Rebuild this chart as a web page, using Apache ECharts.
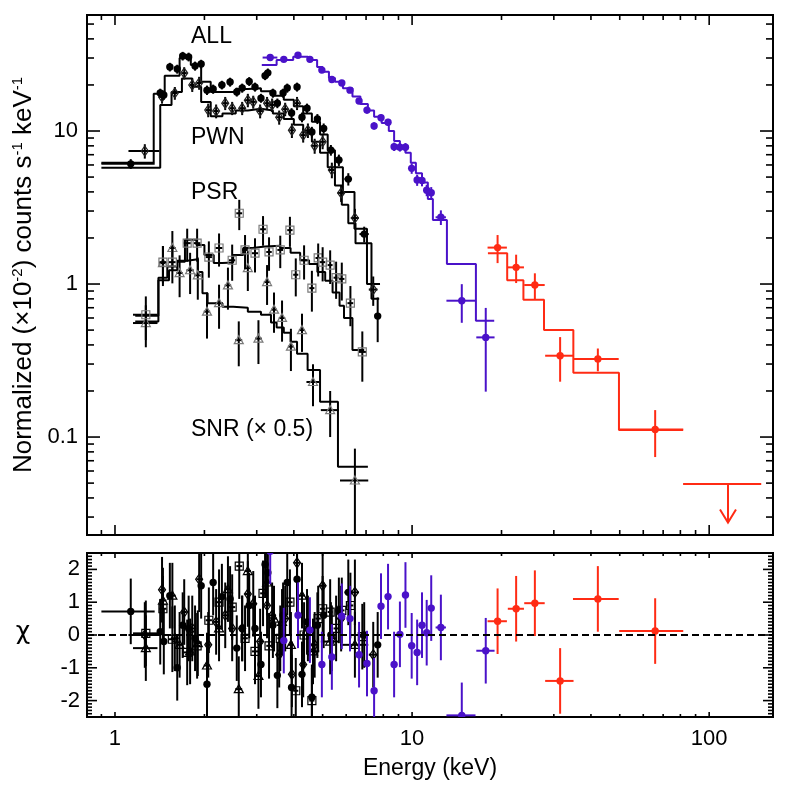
<!DOCTYPE html>
<html><head><meta charset="utf-8">
<script src="https://cdn.jsdelivr.net/npm/echarts@6/dist/echarts.min.js"></script>
<style>html,body{margin:0;padding:0;background:#fff}#c{width:789px;height:789px}</style>
</head><body><div id="c"></div>
<script>
// ---------------- DATA ----------------
// ALL (filled black circles)
const allE   = [1.13,1.42,1.46,1.53,1.62,1.69,1.77,1.86,1.95,2.04,2.14,2.29,2.44,2.57,2.68,2.83,2.96,3.10,3.20,3.27,3.40,3.52,3.68,3.80,3.93,4.10,4.26,4.43,4.60,4.80,5.04,5.33,5.67,6.10,6.90,7.66];
const allDE  = [0.23,0.03,0.03,0.035,0.035,0.035,0.04,0.04,0.045,0.045,0.05,0.06,0.06,0.06,0.06,0.06,0.07,0.05,0.05,0.05,0.06,0.06,0.07,0.07,0.07,0.08,0.08,0.09,0.09,0.1,0.12,0.13,0.15,0.18,0.25,0.15];
const allY   = [6.1,17.7,17.2,26.2,25.4,30.9,30.5,26.6,27.4,18.5,18.8,20.0,20.9,18.0,19.1,21.1,19.4,16.4,23.0,24.0,17.7,15.2,17.7,19.1,13.1,19.4,12.3,14.1,9.85,12.0,10.4,7.5,6.46,4.85,2.12,0.617];
const allDY  = [0.45,1.2,1.2,1.7,1.7,2.0,2.0,1.8,1.8,1.3,1.3,1.3,1.4,1.2,1.3,1.4,1.3,1.1,1.5,1.6,1.2,1.1,1.2,1.3,1.0,1.3,0.9,1.0,0.8,0.9,0.8,0.6,0.55,0.45,0.25,0.2];
const allChi = [0.72,0.1,-0.2,1.2,-1.0,0.3,0.2,-0.1,1.5,-1.5,1.6,1.17,1.1,-0.4,0.2,0.9,0.2,-0.9,2.15,1.9,0.3,-1.23,0.6,1.6,-1.6,1.7,-1.2,0.4,-1.9,0.3,0.6,0.0,0.75,1.3,0.0,-0.3];
const allModelEdges = [0.9,1.35,1.47,1.65,1.8,1.95,2.1,2.3,2.55,2.8,3.1,3.4,3.7,4.0,4.3,4.6,4.9,5.2,5.5,5.85,6.4,7.05,7.8];
const allModelVals  = [6.2,17.5,23,30,27,21,18,18,18.8,19,18.2,17,16,14.5,13,11.5,9.5,7.5,5.8,4.0,2.3,1.0];

// PWN (open diamonds)
const pwnE   = [1.26,1.44,1.59,1.71,1.82,1.92,2.06,2.19,2.35,2.48,2.68,2.80,2.92,3.08,3.25,3.38,3.57,3.74,3.94,4.10,4.30,4.46,4.70,5.00,5.37,5.77,6.42,7.40];
const pwnDE  = [0.15,0.03,0.035,0.035,0.035,0.04,0.04,0.045,0.05,0.05,0.06,0.06,0.06,0.07,0.07,0.07,0.08,0.08,0.08,0.09,0.09,0.1,0.1,0.12,0.14,0.16,0.2,0.25];
const pwnY   = [7.4,16.7,17.7,23.9,20.0,20.6,13.7,13.5,15.2,14.1,14.1,15.9,15.5,13.5,15.2,14.8,12.3,13.9,10.1,15.2,9.4,10.1,8.0,8.5,5.56,3.94,2.7,0.92];
const pwnDY  = [0.8,1.6,1.7,2.2,2.0,2.0,1.4,1.4,1.5,1.4,1.4,1.6,1.5,1.4,1.5,1.5,1.3,1.4,1.1,1.5,1.0,1.1,0.9,0.9,0.65,0.5,0.4,0.2];
const pwnChi = [0.0,1.38,-0.1,0.7,0.2,1.7,-0.3,0.4,0.6,0.2,0.2,1.25,0.95,-0.2,0.9,0.6,-0.6,0.5,-1.2,2.2,-0.9,0.2,-0.3,1.5,-0.1,0.5,1.3,-0.6];
const pwnModelEdges = [0.9,1.42,1.55,1.68,1.82,1.95,2.1,2.3,2.55,2.8,3.1,3.4,3.7,4.0,4.3,4.6,4.9,5.2,5.5,5.8,6.1,6.45,7.3,7.75];
const pwnModelVals  = [5.75,14.8,18.0,22.0,19.5,15.5,12.5,13.0,13.6,14.0,13.6,13.0,12.0,11.0,9.8,8.5,7.2,5.8,4.4,3.3,2.5,1.85,0.8];

// PSR (open squares)
const psrE   = [1.27,1.45,1.56,1.75,1.89,2.07,2.24,2.48,2.62,2.74,2.96,3.15,3.30,3.60,3.88,4.06,4.33,4.60,4.83,5.00,5.30,5.55,5.80,6.20,6.80];
const psrDE  = [0.12,0.04,0.04,0.05,0.05,0.05,0.06,0.06,0.06,0.06,0.07,0.07,0.07,0.08,0.08,0.08,0.09,0.09,0.1,0.1,0.1,0.11,0.12,0.14,0.2];
const psrY   = [0.63,1.39,1.39,1.85,1.85,1.50,1.72,1.43,2.90,1.67,1.59,2.28,1.62,1.67,2.25,1.15,1.43,0.94,1.48,1.39,1.33,1.10,1.08,0.75,0.36];
const psrDY  = [0.2,0.38,0.38,0.45,0.45,0.4,0.42,0.38,0.65,0.42,0.4,0.5,0.4,0.4,0.5,0.32,0.36,0.28,0.36,0.35,0.33,0.3,0.3,0.22,0.13];
const psrChi = [0.05,0.8,-0.13,-0.53,-0.33,0.45,1.0,0.85,2.1,-0.1,-0.5,1.27,-0.33,-0.1,1.0,-1.7,0.0,-2.0,0.5,0.8,0.7,0.2,0.75,0.9,-0.05];
const psrModelEdges = [1.17,1.4,1.5,1.62,1.72,1.88,2.0,2.15,2.3,2.5,2.7,2.9,3.2,3.6,3.9,4.2,4.5,4.8,5.1,5.4,5.7,5.9,6.3,6.9];
const psrModelVals  = [0.62,1.1,1.3,1.4,1.95,1.8,1.55,1.37,1.38,1.55,1.72,1.76,1.78,1.72,1.6,1.43,1.35,1.2,1.05,0.88,0.72,0.6,0.37];

// SNR x0.5 (open triangles)
const snrE   = [1.27,1.45,1.56,1.65,1.79,1.90,2.04,2.24,2.40,2.61,2.80,3.04,3.25,3.43,3.65,3.91,4.26,4.64,5.30,6.42];
const snrDE  = [0.12,0.04,0.04,0.04,0.05,0.05,0.05,0.06,0.06,0.07,0.07,0.08,0.08,0.08,0.09,0.09,0.1,0.23,0.37,0.7];
const snrY   = [0.556,1.37,1.72,1.18,1.23,1.14,0.66,0.75,0.98,0.43,1.27,0.44,1.03,0.68,0.6,0.39,0.5,0.229,0.15,0.052];
const snrDY  = [0.17,0.4,0.5,0.36,0.37,0.35,0.22,0.24,0.3,0.14,0.37,0.14,0.3,0.2,0.18,0.12,0.14,0.07,0.05,0.032];
const snrChi = [-0.4,1.05,1.2,-0.3,-0.5,-0.25,-0.93,0.2,1.4,-1.65,1.95,-1.25,1.6,0.5,0.4,-0.3,1.2,-0.5,-0.2,-0.3];
const snrModelEdges = [1.17,1.4,1.52,1.62,1.75,1.9,1.97,2.05,2.3,2.5,2.8,3.1,3.35,3.5,3.7,3.9,4.1,4.45,4.9,5.63,7.1];
const snrModelVals  = [0.57,1.06,1.23,1.42,1.45,1.2,0.87,0.75,0.71,0.70,0.66,0.63,0.56,0.52,0.48,0.42,0.35,0.274,0.17,0.064];

// Blue instrument (filled blue circles)
const bluE   = [3.33,3.70,4.13,4.53,4.97,5.37,5.80,6.18,6.63,7.05,7.45,7.86,8.30,8.70,9.10,9.50,9.97,10.4,10.8,11.2,11.6,12.5,14.7,17.7];
const bluDE  = [0.19,0.06,0.07,0.07,0.08,0.08,0.09,0.1,0.1,0.11,0.11,0.12,0.12,0.13,0.13,0.14,0.15,0.15,0.16,0.16,0.17,0.5,1.65,1.25];
const bluY   = [30.2,29.4,31.3,29.4,25.0,21.7,20.6,18.5,15.7,13.7,10.8,12.2,11.4,7.9,7.84,7.84,5.70,4.78,4.75,4.1,3.95,2.73,0.778,0.448];
const bluDY  = [1.2,1.1,1.2,1.1,1.0,0.9,0.9,0.8,0.7,0.7,0.6,0.6,0.6,0.5,0.5,0.5,0.45,0.4,0.4,0.35,0.35,0.3,0.22,0.25];
const bluChi = [2.55,-0.17,0.6,0.15,-0.9,-0.67,0.57,0.5,-0.6,-0.87,-1.7,0.88,1.17,-0.9,0.02,1.22,-0.33,-0.53,0.3,0.07,0.82,0.23,-2.45,-0.48];
const bluModelEdges = [3.12,3.5,3.98,4.46,4.79,5.0,5.25,5.5,5.85,6.3,6.7,7.1,7.45,7.9,8.35,8.7,9.1,9.5,9.9,10.3,10.8,11.3,11.75,13.1,16.4,18.9];
const bluModelVals  = [27,29.1,30.6,29.1,26.2,24.4,22.2,21.0,19.0,16.8,15.0,13.6,12.4,11.3,10.0,8.6,8.0,7.2,6.2,5.3,4.6,3.6,2.62,1.35,0.575];

// Red instrument (filled red circles)
const redE   = [19.4,22.4,25.9,31.5,42.2,65.8];
const redDE  = [1.45,1.4,2.05,3.45,7.4,16];
const redY   = [1.73,1.285,0.985,0.34,0.324,0.112];
const redDY  = [0.36,0.27,0.19,0.11,0.055,0.038];
const redChi = [0.42,0.8,0.97,-1.4,1.1,0.12];
const redModelEdges = [18.0,20.9,23.7,27.8,34.9,49.7,81.7];
const redModelVals  = [1.59,1.06,0.79,0.5,0.263,0.111];
// upper limit: [E, dE, level, arrow tip]
const redUpperLimit = [[115.7, 34, 0.0494, 0.0276]];

// axis ticks
const xMajorTicks = [1, 10, 100];
const xMinorTicks = [0.9, 2, 3, 4, 5, 6, 7, 8, 9, 20, 30, 40, 50, 60, 70, 80, 90];
const yMajorTicks = [0.1, 1, 10];
const yMinorTicks = [0.03,0.04,0.05,0.06,0.07,0.08,0.09,0.2,0.3,0.4,0.5,0.6,0.7,0.8,0.9,2,3,4,5,6,7,8,9,20,30,40,50];
const chiMajorTicks = [-2, -1, 0, 1, 2];
const chiMinorTicks = [-2.4,-2.3,-2.2,-2.1,-1.9,-1.8,-1.7,-1.6,-1.5,-1.4,-1.3,-1.2,-1.1,-0.9,-0.8,-0.7,-0.6,-0.5,-0.4,-0.3,-0.2,-0.1,0.1,0.2,0.3,0.4,0.5,0.6,0.7,0.8,0.9,1.1,1.2,1.3,1.4,1.5,1.6,1.7,1.8,1.9,2.1,2.2,2.3,2.4];

// ---------------- STYLE ----------------
const FONT = '"Liberation Sans", Arial, Helvetica, sans-serif';
const BLUE = '#4a12c9';
const RED = '#ff2b14';
const GREY = '#7a7a7a';

function markerShape(type, x, y, color) {
  if (type === 'circle') return {type:'circle', shape:{cx:x, cy:y, r:3.7}, style:{fill:color}};
  if (type === 'square') return {type:'rect', shape:{x:x-4, y:y-4, width:8, height:8}, style:{fill:'none', stroke:color, lineWidth:1.2}};
  if (type === 'triangle') return {type:'polygon', shape:{points:[[x,y-4.5],[x+4.5,y+3.5],[x-4.5,y+3.5]]}, style:{fill:'none', stroke:color, lineWidth:1.2}};
  return {type:'polygon', shape:{points:[[x,y-5],[x+3.5,y],[x,y+5],[x-3.5,y]]}, style:{fill:'none', stroke:color, lineWidth:1.2}};
}

function errSeries(name, grid, E, dE, Y, dY, marker, color, markColor, log) {
  const data = E.map((e, i) => [e, dE[i], Y[i], Array.isArray(dY) ? dY[i] : dY]);
  return {
    name, type: 'custom', xAxisIndex: grid, yAxisIndex: grid, z: 3, clip: true,
    encode: {x: 0, y: 2}, data, silent: true,
    renderItem(params, api) {
      const cs = params.coordSys;
      const e = api.value(0), de = api.value(1), y = api.value(2), dy = api.value(3);
      const c = api.coord([e, y]);
      const xl = api.coord([e - de, y])[0], xr = api.coord([e + de, y])[0];
      const lo = log ? Math.max(y - dy, 1e-5) : y - dy;
      const yt = api.coord([e, y + dy])[1], yb = api.coord([e, lo])[1];
      const st = {stroke: color, lineWidth: 2};
      return {
        type: 'group',
        clipPath: {type:'rect', shape:{x:cs.x, y:cs.y, width:cs.width, height:cs.height}},
        children: [
          {type:'line', shape:{x1:xl, y1:c[1], x2:xr, y2:c[1]}, style: st},
          {type:'line', shape:{x1:c[0], y1:yt, x2:c[0], y2:yb}, style: st},
          markerShape(marker, c[0], c[1], markColor)
        ]
      };
    }
  };
}

function stepSeries(name, grid, edges, vals, color) {
  const d = vals.map((v, i) => [edges[i], v]);
  d.push([edges[edges.length - 1], vals[vals.length - 1]]);
  return {name, type:'line', xAxisIndex:grid, yAxisIndex:grid, step:'end', data:d, symbol:'none', showSymbol:false,
          lineStyle:{color, width:2}, itemStyle:{color}, z:2, silent:true};
}

function frameSeries(grid, anchor, spec) {
  return {
    type:'custom', xAxisIndex:grid, yAxisIndex:grid, data:[anchor], z:6, silent:true,
    renderItem(params, api) {
      const cs = params.coordSys, ch = [];
      const L = (x1, y1, x2, y2, w, dash) => ch.push({type:'line', shape:{x1, y1, x2, y2}, style:{stroke:'#000', lineWidth:w || 1.6, lineDash: dash || null}});
      const x0 = cs.x, x1 = cs.x + cs.width, y0 = cs.y, y1 = cs.y + cs.height;
      const xt = (arr, len) => arr.forEach(v => { const px = api.coord([v, anchor[1]])[0]; if (px <= x0 + 1 || px >= x1 - 1) return; L(px, y1, px, y1 - len); L(px, y0, px, y0 + len); });
      const yt = (arr, len) => arr.forEach(v => { const py = api.coord([anchor[0], v])[1]; if (py <= y0 + 1 || py >= y1 - 1) return; L(x0, py, x0 + len, py); L(x1, py, x1 - len, py); });
      xt(spec.xMaj, spec.xMajLen); xt(spec.xMin, spec.xMinLen);
      yt(spec.yMaj, spec.yMajLen); yt(spec.yMin, spec.yMinLen);
      if (spec.zero) { const py = api.coord([anchor[0], 0])[1]; L(x0, py, x1, py, 2, [7, 4]); }
      return {type:'group', children: ch};
    }
  };
}

function decadeFmt(v) {
  const l = Math.log10(v), r = Math.round(l);
  if (Math.abs(l - r) > 1e-6) return '';
  return r < 0 ? Number(v).toFixed(-r) : String(Math.round(v));
}
function intFmt(v) {
  return Math.abs(v - Math.round(v)) < 1e-6 ? String(Math.round(v)) : '';
}

const labelStyle = {fontSize: 22, fontFamily: FONT, color: '#000'};
const X_MIN = 0.805, X_MAX = 164;

const option = {
  animation: false,
  backgroundColor: '#fff',
  grid: [
    {left: 87, top: 15, width: 686, height: 520, show: true, borderColor: '#000', borderWidth: 2, backgroundColor: 'transparent'},
    {left: 87, top: 553, width: 686, height: 164, show: true, borderColor: '#000', borderWidth: 2, backgroundColor: 'transparent'}
  ],
  xAxis: [
    {type:'log', logBase:10, gridIndex:0, min:X_MIN, max:X_MAX, axisLine:{show:false}, axisTick:{show:false}, axisLabel:{show:false}, splitLine:{show:false}},
    {type:'log', logBase:10, gridIndex:1, min:X_MIN, max:X_MAX, axisLine:{show:false}, axisTick:{show:false}, splitLine:{show:false},
     axisLabel: Object.assign({formatter: decadeFmt, margin: 11, showMinLabel: false, showMaxLabel: false}, labelStyle),
     name:'Energy (keV)', nameLocation:'middle', nameGap: 40, nameTextStyle:{fontSize: 23, fontFamily: FONT, color:'#000'}}
  ],
  yAxis: [
    {type:'log', logBase:10, gridIndex:0, min:0.0229, max:57.3, axisLine:{show:false}, axisTick:{show:false}, splitLine:{show:false},
     axisLabel: Object.assign({formatter: decadeFmt, margin: 9, showMinLabel: false, showMaxLabel: false}, labelStyle),
     name:'Normalized (×10{s|-2}) counts s{s|-1} keV{s|-1}', nameLocation:'middle', nameRotate: 90, nameGap: 46,
     nameTextStyle:{fontSize: 26, fontFamily: FONT, color:'#000', rich:{s:{fontSize: 15, fontFamily: FONT, color:'#000', verticalAlign:'top', lineHeight: 15}}}},
    {type:'value', gridIndex:1, min:-2.5, max:2.5, interval:0.5, axisLine:{show:false}, axisTick:{show:false}, splitLine:{show:false},
     axisLabel: Object.assign({formatter: intFmt, margin: 7}, labelStyle)}
  ],
  graphic: [
    {type:'text', x:191, y:37, style:{text:'ALL', fontSize:23, fontFamily:FONT, fill:'#000', align:'left', verticalAlign:'middle'}},
    {type:'text', x:191, y:138, style:{text:'PWN', fontSize:23, fontFamily:FONT, fill:'#000', align:'left', verticalAlign:'middle'}},
    {type:'text', x:191, y:193, style:{text:'PSR', fontSize:23, fontFamily:FONT, fill:'#000', align:'left', verticalAlign:'middle'}},
    {type:'text', x:191, y:430, style:{text:'SNR (× 0.5)', fontSize:23, fontFamily:FONT, fill:'#000', align:'left', verticalAlign:'middle'}},
    {type:'text', x:23, y:632, style:{text:'χ', fontSize:25, fontFamily:'"DejaVu Sans", "Noto Sans", sans-serif', fill:'#000', align:'center', verticalAlign:'middle'}}
  ],
  series: [
    stepSeries('ALL model', 0, allModelEdges, allModelVals, '#000'),
    stepSeries('PWN model', 0, pwnModelEdges, pwnModelVals, '#000'),
    stepSeries('PSR model', 0, psrModelEdges, psrModelVals, '#000'),
    stepSeries('SNR model', 0, snrModelEdges, snrModelVals, '#000'),
    stepSeries('Blue model', 0, bluModelEdges, bluModelVals, BLUE),
    stepSeries('Red model', 0, redModelEdges, redModelVals, RED),
    errSeries('SNR', 0, snrE, snrDE, snrY, snrDY, 'triangle', '#000', GREY, true),
    errSeries('PSR', 0, psrE, psrDE, psrY, psrDY, 'square', '#000', GREY, true),
    errSeries('PWN', 0, pwnE, pwnDE, pwnY, pwnDY, 'diamond', '#000', '#222', true),
    errSeries('ALL', 0, allE, allDE, allY, allDY, 'circle', '#000', '#000', true),
    errSeries('Blue', 0, bluE, bluDE, bluY, bluDY, 'circle', BLUE, BLUE, true),
    errSeries('Red', 0, redE, redDE, redY, redDY, 'circle', RED, RED, true),
    {
      name:'Red upper limit', type:'custom', xAxisIndex:0, yAxisIndex:0, z:3, silent:true, encode:{x:0, y:2},
      data: redUpperLimit,
      renderItem(params, api) {
        const e = api.value(0), de = api.value(1), y = api.value(2), tip = api.value(3);
        const c = api.coord([e, y]);
        const xl = api.coord([e - de, y])[0], xr = api.coord([e + de, y])[0];
        const yt = api.coord([e, tip])[1];
        const st = {stroke: RED, lineWidth: 2, fill: 'none'};
        return {type:'group', children:[
          {type:'line', shape:{x1:xl, y1:c[1], x2:xr, y2:c[1]}, style:st},
          {type:'line', shape:{x1:c[0], y1:c[1], x2:c[0], y2:yt}, style:st},
          {type:'polyline', shape:{points:[[c[0]-8, yt-13],[c[0], yt],[c[0]+8, yt-13]]}, style:st}
        ]};
      }
    },
    errSeries('SNR chi', 1, snrE, snrDE, snrChi, 1, 'triangle', '#000', '#000', false),
    errSeries('PSR chi', 1, psrE, psrDE, psrChi, 1, 'square', '#000', '#000', false),
    errSeries('PWN chi', 1, pwnE, pwnDE, pwnChi, 1, 'diamond', '#000', '#000', false),
    errSeries('ALL chi', 1, allE, allDE, allChi, 1, 'circle', '#000', '#000', false),
    errSeries('Blue chi', 1, bluE, bluDE, bluChi, 1, 'circle', BLUE, BLUE, false),
    errSeries('Red chi', 1, redE, redDE, redChi, 1, 'circle', RED, RED, false),
    frameSeries(0, [1, 1], {xMaj: xMajorTicks, xMajLen: 10, xMin: xMinorTicks, xMinLen: 5, yMaj: yMajorTicks, yMajLen: 13, yMin: yMinorTicks, yMinLen: 7}),
    frameSeries(1, [1, 0], {xMaj: xMajorTicks, xMajLen: 5, xMin: xMinorTicks, xMinLen: 3, yMaj: chiMajorTicks, yMajLen: 10, yMin: chiMinorTicks, yMinLen: 5, zero: true})
  ]
};

const chart = echarts.init(document.getElementById('c'), null, {renderer: 'canvas'});
chart.setOption(option);
</script>
</body></html>
